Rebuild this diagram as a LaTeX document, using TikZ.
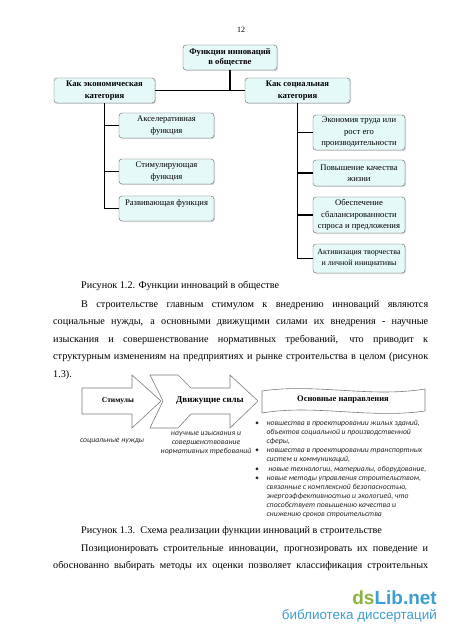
\documentclass[tikz,border=0pt]{standalone}
\usepackage{fontspec}
\setmainfont{Liberation Serif}
\newfontfamily\notefont{Carlito}
\newfontfamily\markfont{Liberation Sans}
\usetikzlibrary{shadows}

\definecolor{boxfill}{HTML}{E4F9F8}
\definecolor{boxline}{HTML}{5E5E5E}
\definecolor{arrline}{HTML}{7C7C7C}
\definecolor{notegray}{HTML}{262626}
\definecolor{libgreen}{HTML}{8CB43C}
\definecolor{libblue}{HTML}{3C9ED2}

\tikzset{
	fbox/.style={draw=boxline, fill=boxfill, rounded corners=3pt, align=center, inner sep=1pt,
		drop shadow={shadow xshift=1pt, shadow yshift=-1pt, opacity=0.3},
		font=\fontsize{8.6}{11.5}\selectfont},
	headbox/.style={fbox, font=\bfseries\fontsize{8.6}{12.5}\selectfont},
	link/.style={line width=1.4pt},
	shapeline/.style={draw=arrline, fill=white, line width=0.6pt},
	bodyline/.style={anchor=base west, inner sep=0pt, font=\fontsize{10.2}{12}\selectfont},
	note/.style={inner sep=0pt, align=center, text=notegray, font=\notefont\itshape\fontsize{7.7}{9.1}\selectfont}
}

\begin{document}
\begin{tikzpicture}[x=1pt, y=-1pt]
	\useasboundingbox (0,0) rectangle (450,636);
	\fill[white] (0,0) rectangle (450,636);

	\node[font=\fontsize{8}{9}\selectfont] (pagenum) at (241,30) {12};

	\node[headbox, minimum width=94pt, minimum height=25pt, font=\bfseries\fontsize{8.6}{10}\selectfont] (root) at (230,57.5) {Функции инноваций\\в обществе};
	\node[headbox, minimum width=101pt, minimum height=25pt] (econ) at (104.5,90.5) {Как экономическая\\категория};
	\node[headbox, minimum width=105pt, minimum height=25pt] (soc) at (297.5,90.5) {Как социальная\\категория};

	\node[fbox, minimum width=95pt, minimum height=25pt] (accel) at (166.5,125.5) {Акселеративная\\функция};
	\node[fbox, minimum width=95pt, minimum height=25pt] (stim) at (166.5,171.5) {Стимулирующая\\функция};
	\node[fbox, minimum width=95pt, minimum height=25pt] (devel) at (166.5,208.5) {Развивающая функция\\\mbox{}};

	\node[fbox, minimum width=92pt, minimum height=35pt] (labour) at (359,132.5) {Экономия труда или\\рост его\\производительности};
	\node[fbox, minimum width=92pt, minimum height=26pt] (life) at (359,173) {Повышение качества\\жизни};
	\node[fbox, minimum width=92pt, minimum height=36pt] (balance) at (359,215) {Обеспечение\\сбалансированности\\спроса и предложения};
	\node[fbox, minimum width=92pt, minimum height=29pt, font=\fontsize{8}{11}\selectfont] (active) at (359,258.5) {Активизация творчества\\и личной инициативы};

	\draw[link] (root.south) -- (root.south |- econ.east);
	\draw[link] (econ.east) -- (soc.west);
	\draw[link] (econ.south) |- (accel.west);
	\draw[link] (econ.south) |- (stim.west);
	\draw[link] (econ.south) |- (devel.west);
	\draw[link] (soc.south) |- (labour.west);
	\draw[link] (soc.south) |- (life.west);
	\draw[link] (soc.south) |- (balance.west);
	\draw[link] (soc.south) |- (active.west);

	\node[bodyline] (cap12) at (81,288.5) {Рисунок 1.2. Функции инноваций в обществе};
	\node[bodyline] (par1) at (81,307) {\makebox[347pt][s]{В строительстве главным стимулом к внедрению инноваций являются}};
	\node[bodyline] (par2) at (53,324.5) {\makebox[375pt][s]{социальные нужды, а основными движущими силами их внедрения - научные}};
	\node[bodyline] (par3) at (53,342) {\makebox[375pt][s]{изыскания и совершенствование нормативных требований, что приводит к}};
	\node[bodyline] (par4) at (53,359.5) {\makebox[375pt][s]{структурным изменениям на предприятиях и рынке строительства в целом (рисунок}};
	\node[bodyline] (par5) at (53,377) {1.3).};

	\draw[shapeline] (82,388) -- (132,388) -- (132,375) -- (161,401) -- (132,428) -- (132,414) -- (82,414) -- cycle;
	\draw[shapeline] (150,375) -- (178,375) -- (191,388) -- (230,388) -- (230,375) -- (258,401) -- (230,428) -- (230,414) -- (191,414) -- (178,428) -- (150,428) -- (163,401) -- cycle;
	\draw[shapeline] (262,391) .. controls (315,383) and (370,398) .. (425,389) -- (425,411) .. controls (370,419) and (315,404) .. (262,413) -- cycle;

	\node[font=\bfseries\fontsize{7.5}{9}\selectfont] (stimuli) at (118,401) {Стимулы};
	\node[font=\bfseries\fontsize{9}{11}\selectfont] (forces) at (210,401) {Движущие силы};
	\node[font=\bfseries\fontsize{8.5}{10}\selectfont] (areas) at (343,400) {Основные направления};

	\node[note] (needs) at (112,441) {социальные нужды};
	\node[note] (research) at (206,443) {научные изыскания и\\совершенствование\\нормативных требований};
	\node[note, anchor=north west] (arealist) at (255,419) {%
		\begin{tabular}{@{}l@{\hspace{7.5pt}}l@{}}
			\textbullet & новшества в проектировании жилых зданий,\\
			& объектов социальной и производственной\\
			& сферы,\\
			\textbullet & новшества в проектировании транспортных\\
			& систем и коммуникаций,\\
			\textbullet & \ новые технологии, материалы, оборудование,\\
			\textbullet & новые методы управления строительством,\\
			& связанные с комплексной безопасностью,\\
			& энергоэффективностью и экологией, что\\
			& способствует повышению качества и\\
			& снижению сроков строительства
		\end{tabular}};

	\node[bodyline] (cap13) at (81,533.5) {Рисунок 1.3.\ \ Схема реализации функции инноваций в строительстве};
	\node[bodyline] (par6) at (81,551.5) {\makebox[347pt][s]{Позиционировать строительные инновации, прогнозировать их поведение и}};
	\node[bodyline] (par7) at (53,568.5) {\makebox[375pt][s]{обоснованно выбирать методы их оценки позволяет классификация строительных}};

	\node[anchor=east, inner sep=0pt, font=\markfont\bfseries\fontsize{19}{21}\selectfont] (sitename) at (437,598) {\textcolor{libgreen}{ds}\textcolor{libblue}{Lib.net}};
	\node[anchor=east, inner sep=0pt, text=libblue, font=\markfont\fontsize{13.4}{15}\selectfont] (sitetag) at (437,616) {библиотека диссертаций};
\end{tikzpicture}
\end{document}
